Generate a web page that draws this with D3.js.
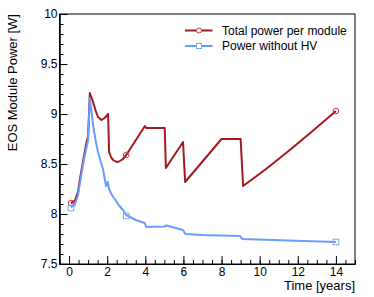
<html>
<head>
<style>
  body{margin:0;background:#fff}
  svg text{font-family:"Liberation Sans",Arial,sans-serif;fill:#000}
  .axis path,.axis line{stroke:#000;stroke-width:1px}
  .axis text{font-size:12px}
  .curve{fill:none;stroke-width:2px;stroke-linejoin:round}
</style>
</head>
<body>
<div id="chart"></div>
<script src="https://cdnjs.cloudflare.com/ajax/libs/d3/7.8.5/d3.min.js"></script>
<script>
// total power per module vs time
var totalT   = [0.1, 0.3, 0.47, 0.6, 0.73, 0.91, 1.0, 1.09, 1.17, 1.26, 1.4, 1.52, 1.7, 1.87, 2.05, 2.1, 2.2, 2.31, 2.45, 2.57, 2.8, 3.0, 3.98, 4.05, 5.02, 5.08, 5.98, 6.09, 8.0, 9.0, 9.13, 10.3, 11.5, 12.7, 14];
var totalP   = [8.11, 8.13, 8.22, 8.38, 8.52, 8.71, 8.78, 9.21, 9.17, 9.12, 9.03, 8.97, 8.94, 8.96, 9.0, 8.62, 8.57, 8.54, 8.525, 8.52, 8.545, 8.59, 8.88, 8.86, 8.86, 8.46, 8.72, 8.32, 8.75, 8.75, 8.28, 8.445, 8.628, 8.818, 9.03];
// power without HV
var noHvT    = [0.1, 0.3, 0.47, 0.6, 0.73, 0.91, 1.0, 1.09, 1.17, 1.26, 1.4, 1.52, 1.65, 1.78, 1.94, 2.03, 2.1, 2.25, 2.4, 2.6, 2.83, 3.0, 3.5, 3.97, 4.05, 5.0, 5.1, 5.98, 6.1, 7.0, 8.96, 9.1, 11.5, 14];
var noHvP    = [8.07, 8.09, 8.19, 8.34, 8.49, 8.66, 8.74, 9.16, 9.04, 8.89, 8.73, 8.62, 8.53, 8.45, 8.28, 8.32, 8.25, 8.19, 8.15, 8.09, 8.04, 7.99, 7.94, 7.91, 7.87, 7.875, 7.885, 7.84, 7.80, 7.79, 7.78, 7.75, 7.735, 7.72];
// marker points
var markT      = [0.1, 3.0, 14];
var markTotal  = [8.11, 8.59, 9.03];
var markNoHv   = [8.06, 7.98, 7.72];
// ticks
var xMajor = [0, 2, 4, 6, 8, 10, 12, 14];
var xMinor = d3.range(-0.5, 15.01, 0.5);
var yMajor = [7.5, 8, 8.5, 9, 9.5, 10];
var yMinor = d3.range(7.5, 10.001, 0.1);
var legendNames = ['Total power per module', 'Power without HV'];

(function () {
  var
    width  = 374,
    height = 297,
    left   = 59.5,
    right  = 355,
    top    = 14,
    bottom = 264,
    red    = '#a31a1e',
    blue   = '#6a9cff',
    xScale = d3.scaleLinear().domain([-0.5, 15]).range([left, right]),
    yScale = d3.scaleLinear().domain([7.5, 10]).range([bottom, top]),
    svg    = d3.select('#chart').append('svg')
               .attr('width', width).attr('height', height),
    line   = d3.line()
               .x(function (d) { return xScale(d[0]); })
               .y(function (d) { return yScale(d[1]); });

  function pairs(a, b) { return a.map(function (v, i) { return [v, b[i]]; }); }

  // frame
  svg.append('rect')
    .attr('x', left).attr('y', top)
    .attr('width', right - left).attr('height', bottom - top)
    .style('fill', 'none').style('stroke', '#000');

  // y axis, ticks inward
  svg.append('g').attr('class', 'axis')
    .attr('transform', 'translate(' + left + ',0)')
    .call(d3.axisLeft(yScale).tickValues(yMinor).tickSize(-4).tickFormat('').tickSizeOuter(0));
  svg.append('g').attr('class', 'axis')
    .attr('transform', 'translate(' + left + ',0)')
    .call(d3.axisLeft(yScale).tickValues(yMajor).tickSize(-8).tickPadding(2).tickSizeOuter(0)
      .tickFormat(function (d) { return d3.format('')(d); }));

  // x axis
  svg.append('g').attr('class', 'axis')
    .attr('transform', 'translate(0,' + bottom + ')')
    .call(d3.axisBottom(xScale).tickValues(xMinor).tickSize(-4).tickFormat('').tickSizeOuter(0));
  svg.append('g').attr('class', 'axis')
    .attr('transform', 'translate(0,' + bottom + ')')
    .call(d3.axisBottom(xScale).tickValues(xMajor).tickSize(-8).tickPadding(3.5).tickSizeOuter(0));

  svg.selectAll('.axis text').style('font-size', '12px').style('font-family', '"Liberation Sans",Arial,sans-serif');

  // titles
  svg.append('text')
    .attr('x', right).attr('y', 289.5)
    .attr('text-anchor', 'end')
    .style('font-size', '13px')
    .text('Time [years]');

  svg.append('text')
    .attr('transform', 'translate(16.5,' + top + ') rotate(-90)')
    .attr('text-anchor', 'end')
    .style('font-size', '13px')
    .text('EOS Module Power [W]');

  // curves
  svg.append('path').attr('class', 'curve')
    .attr('d', line(pairs(totalT, totalP)))
    .style('stroke', red);

  svg.append('path').attr('class', 'curve')
    .attr('d', line(pairs(noHvT, noHvP)))
    .style('stroke', blue);

  // markers
  svg.selectAll('.mTot').data(pairs(markT, markTotal)).enter()
    .append('circle').attr('class', 'mTot')
    .attr('cx', function (d) { return xScale(d[0]); })
    .attr('cy', function (d) { return yScale(d[1]); })
    .attr('r', 2.8)
    .style('fill', 'none').style('stroke', '#c8383c').style('stroke-width', 1);

  svg.selectAll('.mHv').data(pairs(markT, markNoHv)).enter()
    .append('rect').attr('class', 'mHv')
    .attr('x', function (d) { return xScale(d[0]) - 2.8; })
    .attr('y', function (d) { return yScale(d[1]) - 2.8; })
    .attr('width', 5.6).attr('height', 5.6)
    .style('fill', 'none').style('stroke', '#7aa6ff').style('stroke-width', 1);

  // legend
  var leg = svg.append('g');
  legendNames.forEach(function (name, i) {
    var ly = 30.5 + i * 15.5,
        col = i === 0 ? red : blue;
    leg.append('line')
      .attr('x1', 185).attr('x2', 212.5).attr('y1', ly).attr('y2', ly)
      .style('stroke', col).style('stroke-width', 2);
    if (i === 0) {
      leg.append('circle').attr('cx', 199).attr('cy', ly).attr('r', 2.5)
        .style('fill', '#fff').style('stroke', '#c8383c');
    } else {
      leg.append('rect').attr('x', 196.5).attr('y', ly - 2.5).attr('width', 5).attr('height', 5)
        .style('fill', '#fff').style('stroke', '#7aa6ff');
    }
    leg.append('text')
      .attr('x', 222).attr('y', ly + 4.3)
      .style('font-size', '12px')
      .text(name);
  });
})();
</script>
</body>
</html>
